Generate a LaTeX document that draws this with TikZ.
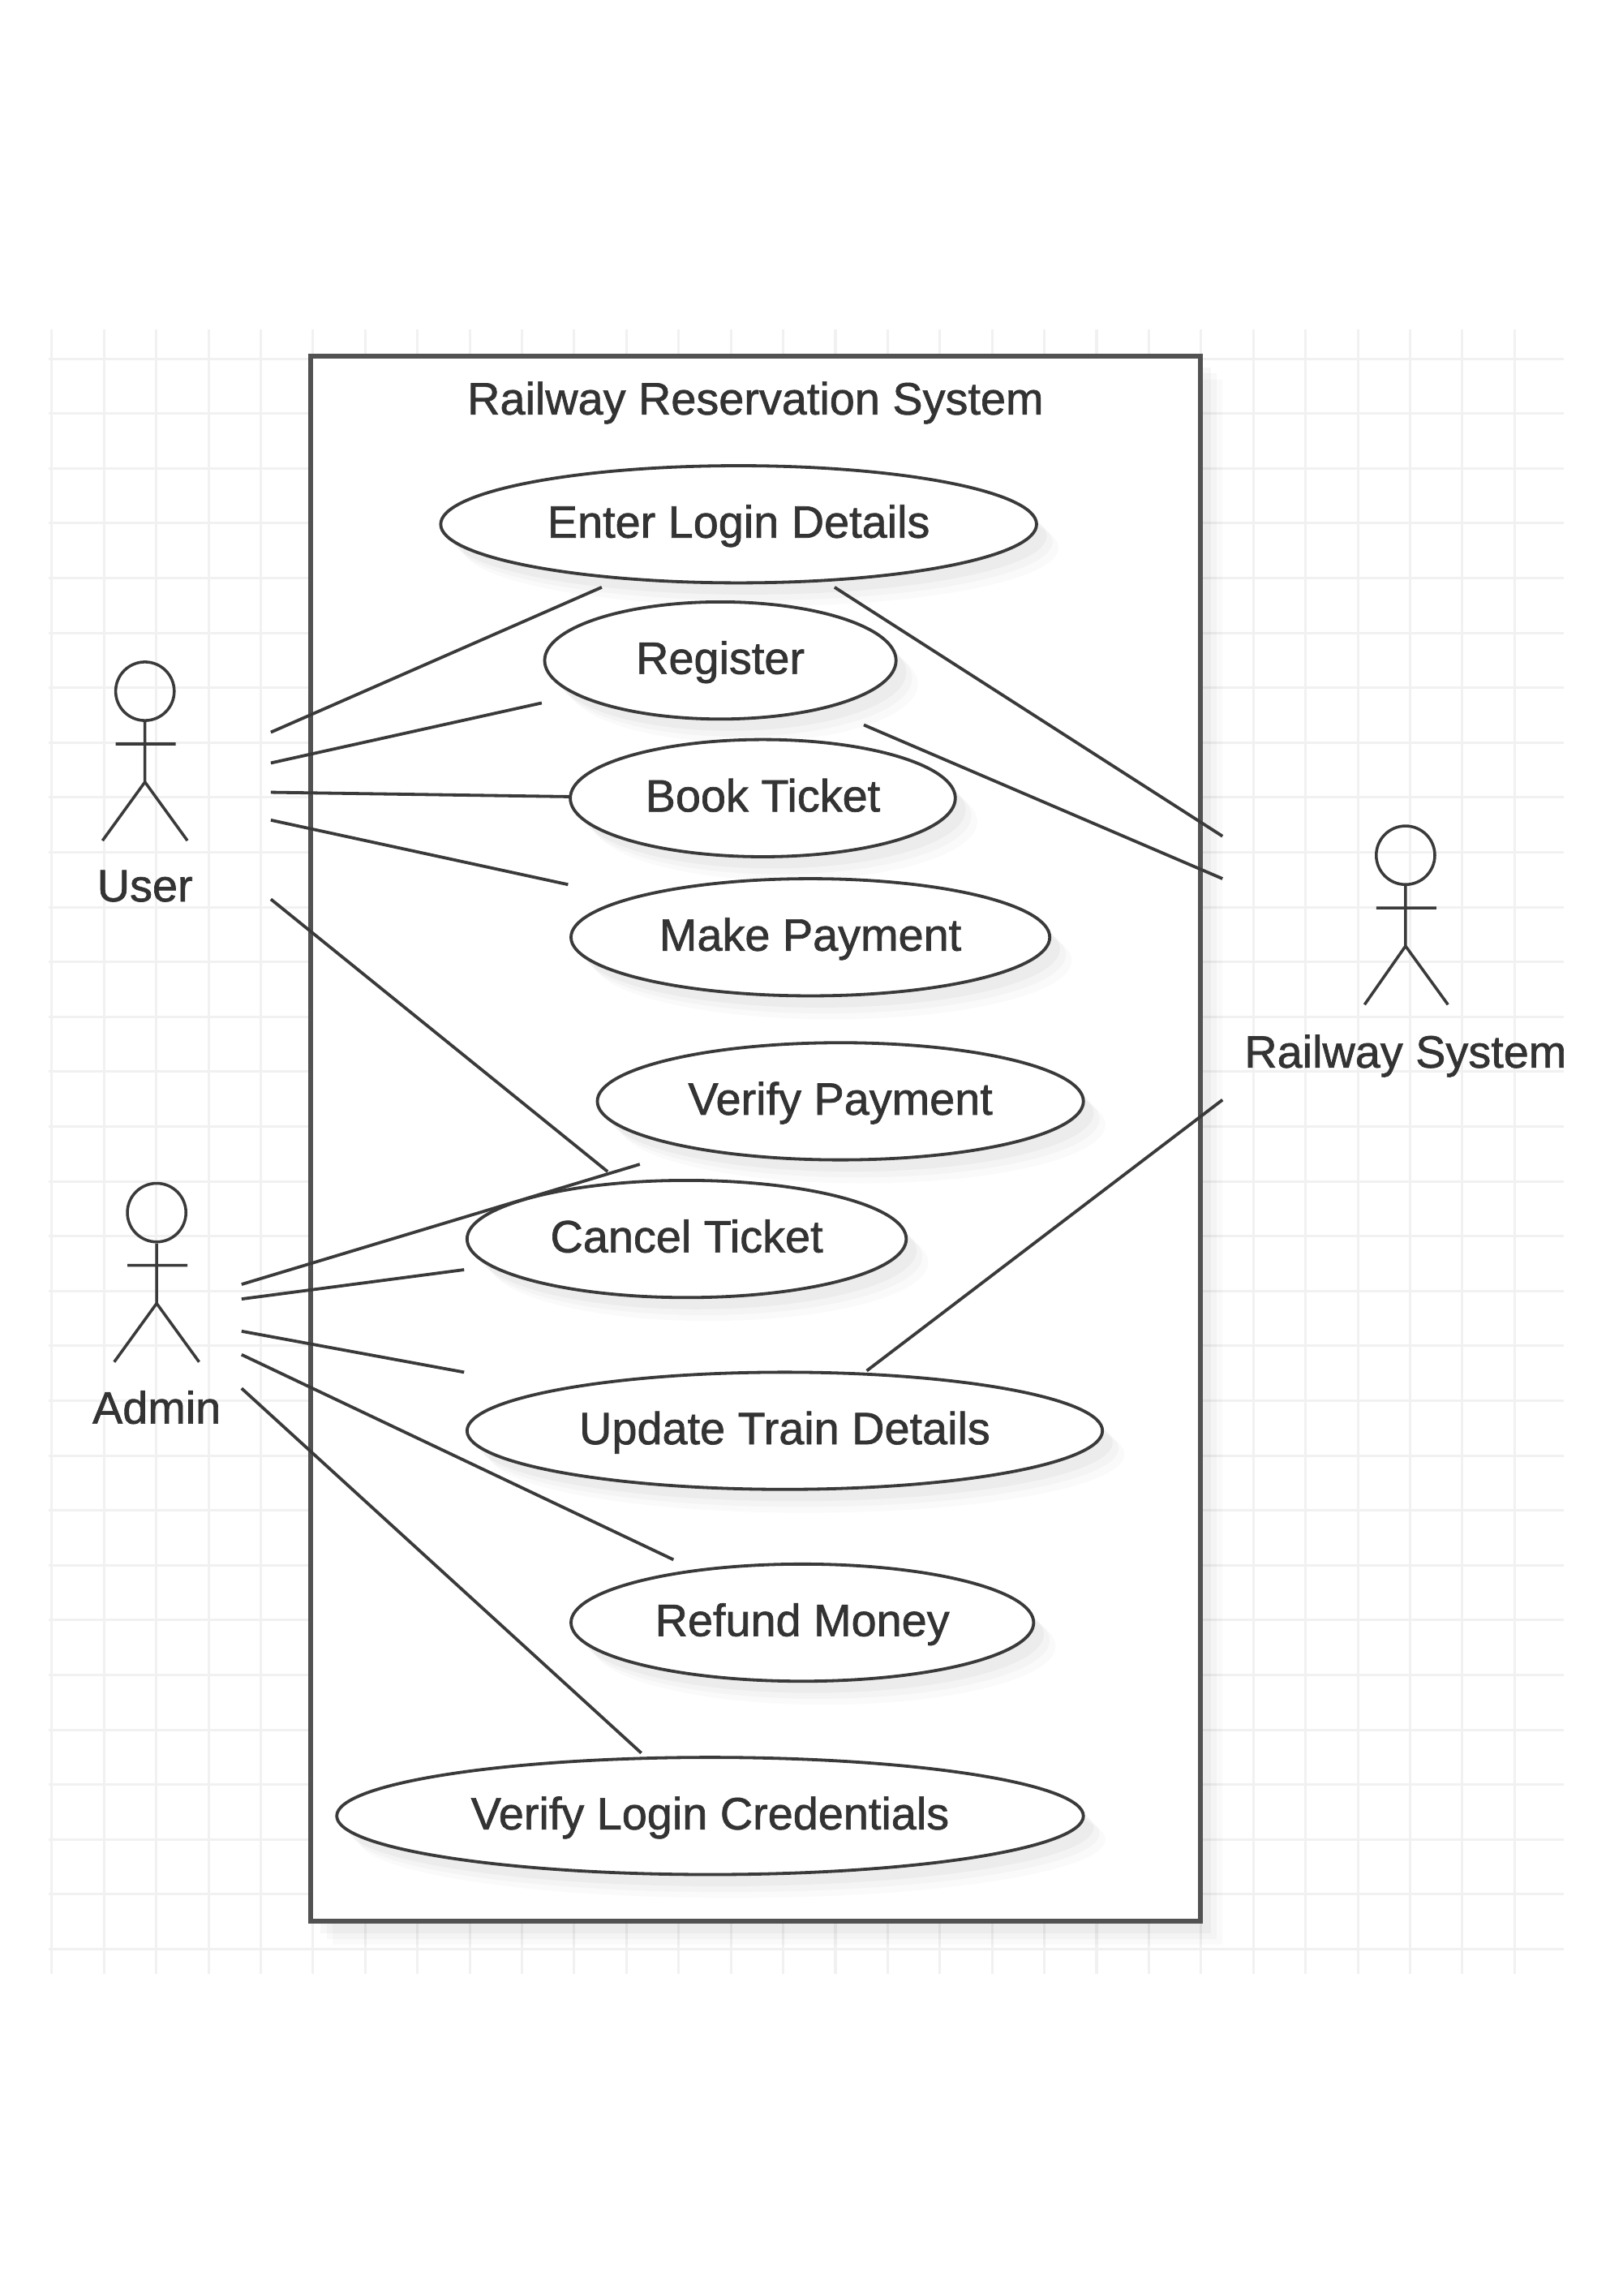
\documentclass[tikz,border=0pt]{standalone}
\usepackage{fontspec}
\setmainfont[FakeBold=1.2]{Liberation Sans}
\usetikzlibrary{shapes.geometric,shadows}
\definecolor{ink}{HTML}{3A3A3A}
\definecolor{txt}{HTML}{333333}
\definecolor{gridc}{HTML}{F1F1F1}
\tikzset{
  softshadow/.style={
    general shadow={shadow xshift=0.75cm,shadow yshift=-0.8cm,fill=black,opacity=.02},
    general shadow={shadow xshift=0.55cm,shadow yshift=-0.6cm,fill=black,opacity=.025},
    general shadow={shadow xshift=0.35cm,shadow yshift=-0.4cm,fill=black,opacity=.03}},
  usecase/.style={ellipse,draw=ink,line width=3pt,fill=white,softshadow,inner sep=0pt,outer sep=0pt,
    font=\fontsize{44}{52}\selectfont,text=txt,minimum height=4cm,text height=33pt,text depth=7pt},
  sysbox/.style={rectangle,draw=black!68,line width=5pt,fill=white,softshadow,inner sep=0pt},
  label/.style={font=\fontsize{44}{52}\selectfont,text=txt,inner sep=0pt},
  head/.style={circle,draw=ink,line width=2.8pt,minimum size=2cm,inner sep=0pt},
  limb/.style={draw=ink,line width=2.8pt},
  conn/.style={draw=ink,line width=3pt},
  gridline/.style={draw=gridc,line width=2.4pt}
}
\begin{document}
\begin{tikzpicture}[x=0.05cm,y=-0.05cm]
\useasboundingbox (0,0) rectangle (1108,1567.8);
% grid
\foreach \gx in {0,...,28} \draw[gridline] ({35.4+35.68*\gx},225) -- ({35.4+35.68*\gx},1348);
\foreach \gy in {0,...,29} \draw[gridline] (33,{244.9+37.45*\gy}) -- (1068,{244.9+37.45*\gy});
% system boundary
\node[sysbox,minimum width=30.4cm,minimum height=53.45cm] (system) at (516,777.5) {};
\node[label] (title) at (516,275) {Railway Reservation System};
% use cases
\node[usecase,minimum width=20.35cm] (enter) at (504.5,358) {Enter Login Details};
\node[usecase,minimum width=12cm] (register) at (492,451) {Register};
\node[usecase,minimum width=13.15cm] (book) at (521,545) {Book Ticket};
\node[usecase,minimum width=16.35cm] (pay) at (553.5,640) {Make Payment};
\node[usecase,minimum width=16.6cm] (verifypay) at (574,752) {Verify Payment};
\node[usecase,minimum width=15cm] (cancel) at (469,846) {Cancel Ticket};
\node[usecase,minimum width=21.7cm] (update) at (536,977) {Update Train Details};
\node[usecase,minimum width=15.8cm] (refund) at (548,1108) {Refund Money};
\node[usecase,minimum width=25.5cm] (verifylogin) at (485,1240) {Verify Login Credentials};
% actor: User
\node[head] (userhead) at (99,472) {};
\coordinate (userhip) at (99,534);
\coordinate (userarml) at (79,508);
\coordinate (userarmr) at (120,508);
\coordinate (userfootl) at (70,574);
\coordinate (userfootr) at (128,574);
\draw[limb] (userhead.south) -- (userhip) (userarml) -- (userarmr) (userfootl) -- (userhip) -- (userfootr);
\node[label] (user) at (99,605) {User};
% actor: Admin
\node[head] (adminhead) at (107,828) {};
\coordinate (adminhip) at (107,890);
\coordinate (adminarml) at (87,864);
\coordinate (adminarmr) at (128,864);
\coordinate (adminfootl) at (78,930);
\coordinate (adminfootr) at (136,930);
\draw[limb] (adminhead.south) -- (adminhip) (adminarml) -- (adminarmr) (adminfootl) -- (adminhip) -- (adminfootr);
\node[label] (admin) at (107,961) {Admin};
% actor: Railway System
\node[head] (railhead) at (960,584) {};
\coordinate (railhip) at (960,646);
\coordinate (railarml) at (940,620);
\coordinate (railarmr) at (981,620);
\coordinate (railfootl) at (932,686);
\coordinate (railfootr) at (989,686);
\draw[limb] (railhead.south) -- (railhip) (railarml) -- (railarmr) (railfootl) -- (railhip) -- (railfootr);
\node[label] (rail) at (960,721) {Railway System};
% connector ends
\coordinate (u1) at (185,500); \coordinate (e1) at (411,401);
\coordinate (u2) at (185,521); \coordinate (r1) at (370,480);
\coordinate (u3) at (185,541); \coordinate (b1) at (390,544);
\coordinate (u4) at (185,560); \coordinate (p1) at (388,604);
\coordinate (u5) at (185,614); \coordinate (c1) at (415,800);
\coordinate (a1) at (165,877); \coordinate (v1) at (437,795);
\coordinate (a2) at (165,887); \coordinate (c2) at (317,867);
\coordinate (a3) at (165,909); \coordinate (t1) at (317,937);
\coordinate (a4) at (165,925); \coordinate (m1) at (460,1065);
\coordinate (a5) at (165,948); \coordinate (l1) at (438,1197);
\coordinate (s1) at (835,571); \coordinate (e2) at (570,401);
\coordinate (s2) at (835,600); \coordinate (r2) at (590,495);
\coordinate (s3) at (835,751); \coordinate (t2) at (592,936);
% connectors
\draw[conn] (u1) -- (e1);
\draw[conn] (u2) -- (r1);
\draw[conn] (u3) -- (b1);
\draw[conn] (u4) -- (p1);
\draw[conn] (u5) -- (c1);
\draw[conn] (a1) -- (v1);
\draw[conn] (a2) -- (c2);
\draw[conn] (a3) -- (t1);
\draw[conn] (a4) -- (m1);
\draw[conn] (a5) -- (l1);
\draw[conn] (s1) -- (e2);
\draw[conn] (s2) -- (r2);
\draw[conn] (s3) -- (t2);
\end{tikzpicture}
\end{document}
